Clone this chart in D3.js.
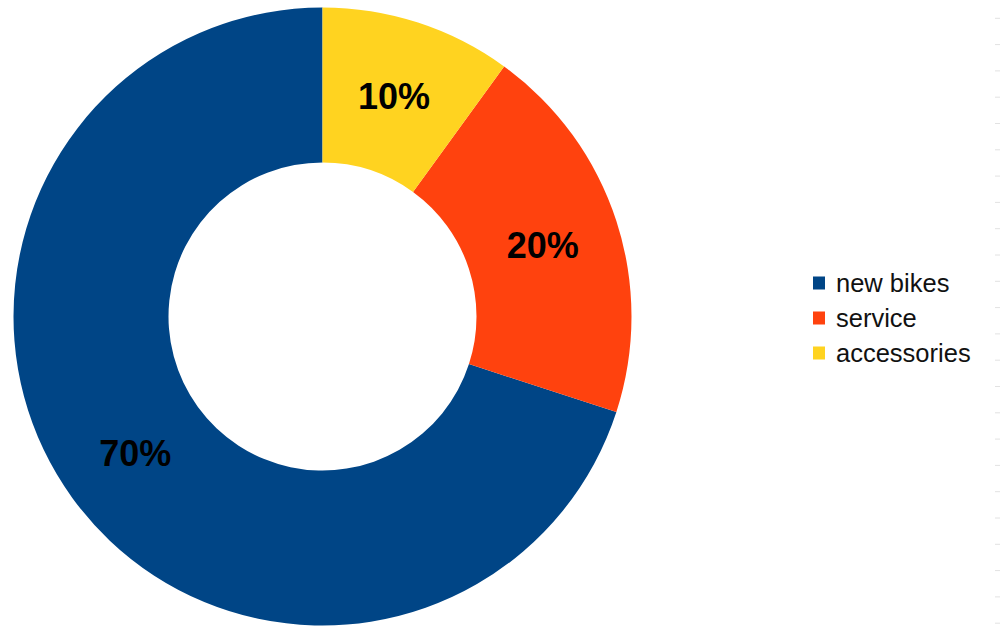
<!DOCTYPE html>
<html>
<head>
<meta charset="utf-8">
<script src="https://cdn.jsdelivr.net/npm/d3@7"></script>
<style>
  body { margin: 0; background: #fff; }
  svg { display: block; }
</style>
</head>
<body>
<div id="chart"></div>
<script>
// data
var categories = ["new bikes", "service", "accessories"];
var shares = [70, 20, 10];
var sliceLabels = ["70%", "20%", "10%"];
var colors = ["#004586", "#ff420e", "#ffd320"];

var svgWidth = 1000;
var svgHeight = 635;

var svg = d3.select("#chart")
  .append("svg")
  .attr("width", svgWidth)
  .attr("height", svgHeight);

var outerR = 309;
var innerR = 154;

var chartGroup = svg.append("g")
  .attr("transform", "translate(322.5, 316.5)");

// slices run counter-clockwise from 12 o'clock
var pie = d3.pie()
  .sort(null)
  .startAngle(0)
  .endAngle(-2 * Math.PI)
  .value(d => d);

var arc = d3.arc()
  .innerRadius(innerR)
  .outerRadius(outerR);

var arcs = pie(shares);

chartGroup.selectAll("path")
  .data(arcs)
  .enter()
  .append("path")
  .attr("d", arc)
  .attr("fill", (d, i) => colors[i]);

chartGroup.selectAll("text.pct")
  .data(arcs)
  .enter()
  .append("text")
  .attr("class", "pct")
  .attr("transform", d => `translate(${arc.centroid(d)})`)
  .attr("text-anchor", "middle")
  .attr("dy", "0.36em")
  .style("font-family", "'Liberation Sans', Arial, sans-serif")
  .style("font-weight", "bold")
  .style("font-size", "36px")
  .attr("fill", "#000")
  .text((d, i) => sliceLabels[i]);

// legend
var legendY = d3.scalePoint()
  .domain(categories)
  .range([283, 353]);

var legend = svg.append("g");

var rows = legend.selectAll("g")
  .data(categories)
  .enter()
  .append("g")
  .attr("transform", d => `translate(813, ${legendY(d)})`);

rows.append("rect")
  .attr("x", 0)
  .attr("y", -6.5)
  .attr("width", 12)
  .attr("height", 13)
  .attr("fill", (d, i) => colors[i]);

rows.append("text")
  .attr("x", 23)
  .attr("dy", "0.35em")
  .style("font-family", "'Liberation Sans', Arial, sans-serif")
  .style("font-size", "25.5px")
  .attr("fill", "#111")
  .text(d => d);

// faint dashes along the right edge
svg.append("g")
  .selectAll("line")
  .data(d3.range(24))
  .enter()
  .append("line")
  .attr("x1", 995)
  .attr("x2", 1000)
  .attr("y1", d => 18.3 + d * 26.3)
  .attr("y2", d => 18.3 + d * 26.3)
  .attr("stroke", "#e2e2e2")
  .attr("stroke-width", 1);
</script>
</body>
</html>
